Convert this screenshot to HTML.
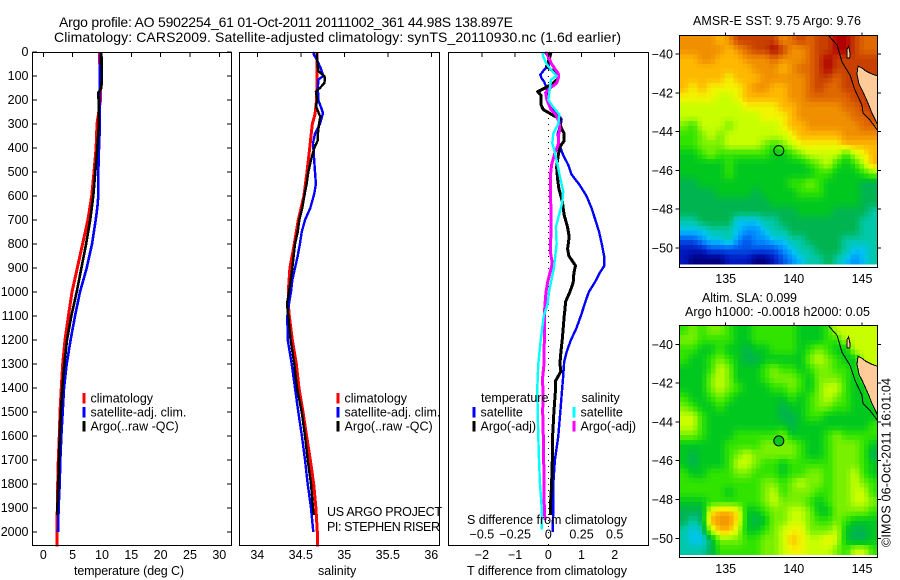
<!DOCTYPE html>
<html><head><meta charset="utf-8"><title>Argo profile</title>
<style>
html,body{margin:0;padding:0;background:#fff}
svg{display:block}
text{font-family:"Liberation Sans",sans-serif;fill:#000;font-size:12.5px}
.t{font-size:14px}
</style></head>
<body>
<svg id="chart" width="900" height="580" viewBox="0 0 900 580" xmlns="http://www.w3.org/2000/svg">
<rect width="900" height="580" fill="#fff"/>
<text class="t" x="59" y="27" textLength="454">Argo profile: AO 5902254_61 01-Oct-2011 20111002_361 44.98S 138.897E</text>
<text class="t" x="54" y="42" textLength="567">Climatology: CARS2009. Satellite-adjusted climatology: synTS_20110930.nc (1.6d earlier)</text>
<text x="74" y="575" textLength="110">temperature (deg C)</text>
<text x="318" y="575">salinity</text>
<text x="467" y="575" textLength="160">T difference from climatology</text>
<text x="467" y="524" textLength="160">S difference from climatology</text>
<text x="327" y="516" textLength="115">US ARGO PROJECT</text>
<text x="327" y="531" textLength="113">PI: STEPHEN RISER</text>
<text x="693" y="25" textLength="168">AMSR-E SST: 9.75  Argo: 9.76</text>
<text x="702" y="302" textLength="95">Altim. SLA: 0.099</text>
<text x="685" y="316" textLength="185">Argo h1000: -0.0018 h2000: 0.05</text>
<text transform="translate(890.5,547) rotate(-90)" textLength="169">©IMOS 06-Oct-2011 16:01:04</text>
</svg>
<script>
// ---------- profile data: temperature panel ----------
const climTempDepth = [0,100,200,300,400,500,600,700,800,900,1000,1100,1200,1300,1400,1500,1600,1700,1800,1900,2000,2060];
const climTemp = [9.55,9.7,9.75,9.15,9.0,8.64,8.25,7.6,6.7,5.8,4.9,4.27,3.7,3.3,3.07,2.85,2.73,2.56,2.45,2.39,2.33,2.33];
const satTempDepth = [0,100,200,300,400,500,600,650,700,800,900,1000,1100,1200,1300,1400,1500,1600,1700,1800,1900,2000];
const satTemp = [9.78,9.6,9.65,9.65,9.5,9.38,9.38,9.2,8.93,8.3,7.4,6.25,5.4,4.66,3.98,3.53,3.3,3.07,2.9,2.8,2.6,2.5];
const argoTempDepth = [0,100,150,170,200,300,400,500,600,700,800,900,1000,1100,1200,1300,1400,1500,1600,1700,1800,1900,1930];
const argoTemp = [9.9,9.95,9.9,9.38,9.42,9.48,9.2,8.87,8.53,8.0,7.3,6.5,5.7,4.78,4.04,3.58,3.24,3.0,2.8,2.68,2.56,2.39,2.39];

// ---------- profile data: salinity panel ----------
const climSalDepth = [0,100,200,260,300,400,500,600,700,800,900,1000,1050,1100,1200,1300,1400,1500,1600,1700,1800,1900,2000,2060];
const climSal = [34.686,34.686,34.682,34.663,34.632,34.602,34.571,34.536,34.471,34.425,34.375,34.356,34.356,34.368,34.402,34.448,34.479,34.525,34.567,34.609,34.648,34.674,34.69,34.693];
const satSalDepth = [0,10,30,70,100,115,150,200,230,255,300,340,380,420,500,550,590,650,700,750,800,850,900,950,1000,1050,1100,1200,1300,1400,1500,1600,1700,1800,1900,2000];
const satSal = [34.655,34.648,34.682,34.732,34.759,34.701,34.697,34.701,34.732,34.755,34.72,34.663,34.64,34.648,34.663,34.674,34.655,34.609,34.548,34.51,34.49,34.464,34.433,34.402,34.387,34.364,34.345,34.349,34.395,34.433,34.471,34.513,34.548,34.579,34.617,34.644];
const argoSalDepth = [0,20,80,100,110,130,150,165,200,225,250,270,300,340,370,400,450,500,550,600,650,700,750,800,900,1000,1050,1100,1200,1300,1400,1500,1600,1700,1800,1900,1930];
const argoSal = [34.686,34.686,34.701,34.77,34.778,34.77,34.72,34.674,34.69,34.674,34.701,34.724,34.709,34.697,34.693,34.655,34.617,34.586,34.567,34.54,34.517,34.483,34.464,34.433,34.402,34.364,34.341,34.356,34.383,34.425,34.456,34.51,34.548,34.579,34.617,34.64,34.648];

// ---------- profile data: difference panel ----------
const diffTempSatDepth = [0,20,60,70,95,110,125,150,200,240,260,280,300,340,380,430,470,510,555,600,650,700,750,800,850,890,920,960,1000,1040,1100,1150,1200,1250,1290,1350,1400,1500,1600,1700,1800,1900,2000];
const diffTempSat = [-0.1,0,0.02,-0.1,-0.24,-0.2,-0.12,-0.05,0,0.15,0.3,0.4,0.38,0.28,0.32,0.45,0.6,0.7,0.95,1.15,1.3,1.42,1.53,1.61,1.68,1.69,1.55,1.4,1.22,1.12,0.98,0.85,0.68,0.55,0.48,0.45,0.42,0.36,0.3,0.2,0.15,0.15,0.13];
const diffTempArgoDepth = [0,20,60,75,90,110,130,150,165,180,220,240,260,280,300,320,340,370,395,430,480,530,570,620,680,730,770,820,850,890,920,960,1000,1040,1075,1100,1150,1200,1250,1300,1330,1350,1370,1400,1500,1600,1700,1800,1900,1930];
const diffTempArgo = [0.08,0.05,-0.05,0.1,0.28,0.3,0.15,-0.1,-0.32,-0.22,-0.22,-0.15,0.1,0.35,0.35,0.4,0.48,0.48,0.35,0.3,0.25,0.28,0.32,0.42,0.48,0.58,0.63,0.58,0.62,0.82,0.77,0.75,0.65,0.52,0.5,0.48,0.45,0.42,0.38,0.35,0.38,0.3,0.22,0.22,0.17,0.13,0.12,0.1,0.06,0.06];
const diffSalSatDepth = [0,20,50,80,100,115,150,200,230,260,300,340,380,420,470,520,580,630,680,730,800,900,1000,1050,1100,1200,1300,1400,1500,1600,1700,1800,1900,1990];
const diffSalSat = [-0.045,-0.0375,-0.0125,0.03,0.0625,0.02,0.0125,0,0.0375,0.0825,0.075,0.0375,0.03,0.05,0.07,0.0875,0.1125,0.105,0.08,0.0575,0.0625,0.0425,0.005,-0.005,-0.035,-0.0575,-0.075,-0.0825,-0.08,-0.075,-0.07,-0.0625,-0.05,-0.05];
const diffSalArgoDepth = [0,20,50,70,90,110,130,150,170,200,240,260,290,320,350,385,420,470,520,600,680,750,830,880,920,960,1000,1050,1100,1200,1300,1370,1400,1500,1600,1700,1800,1900,1950];
const diffSalArgo = [-0.0125,0,0.025,0.05,0.075,0.075,0.0625,0.0125,-0.02,-0.01,0.02,0.055,0.08,0.0875,0.075,0.075,0.05,0.025,0.015,0.0175,0.02,0.02,0.015,0.03,0.0125,-0.005,-0.0175,-0.025,-0.03,-0.03,-0.0325,-0.045,-0.04,-0.0425,-0.0375,-0.035,-0.0325,-0.03,-0.025];

// ---------- tick labels ----------
const depthTicks = [0,100,200,300,400,500,600,700,800,900,1000,1100,1200,1300,1400,1500,1600,1700,1800,1900,2000];
const tempTicks = [0,5,10,15,20,25,30];
const salTicks = [34,34.5,35,35.5,36];
const diffTTicks = [-2,-1,0,1,2];
const diffSTicks = [-0.5,-0.25,0,0.25,0.5];
const lonTicks = [135,140,145];
const sstLatTicks = [-40,-42,-44,-46,-48,-50];
const slaLatTicks = [-40,-42,-44,-46,-48,-50];

// ---------- map data (colour-scale levels, rows north to south) ----------
const sstLevels = [
[13,13,13,13,12,13,15,15,15,15,15,13,14,15,14,15,15,16,16,15,14,14],
[13,13,13,13,13,12,13,14,15,15,16,15,13,13,14,15,15,16,16,15,14,14],
[12,12,13,13,12,12,12,13,13,13,14,13,13,13,14,15,16,15,15,15,15,15],
[12,12,12,12,12,12,12,12,13,13,13,12,13,14,14,15,16,15,15,15,15,15],
[12,12,12,12,12,11,12,12,12,13,13,13,13,13,14,15,15,14,15,15,15,15],
[12,11,12,11,11,11,11,12,13,13,12,12,13,13,14,15,14,14,15,15,15,15],
[11,11,11,11,10,10,11,12,12,12,12,12,13,13,14,14,14,14,14,15,15,15],
[10,10,10,10,10,10,10,11,11,11,11,12,12,13,13,13,13,13,14,14,15,15],
[10,10,10,10,10,10,10,10,10,11,11,11,12,13,13,13,13,13,13,14,14,15],
[9,8,10,10,10,9,10,10,10,10,10,11,12,12,13,13,13,13,13,13,14,14],
[8,8,9,10,9,10,10,10,10,10,10,10,11,12,12,12,12,12,13,13,13,13],
[8,8,9,9,9,10,10,10,10,9,8,9,10,11,11,11,11,11,12,12,12,12],
[7,7,8,9,8,8,8,8,8,8,7,7,8,9,10,10,10,10,8,10,11,12],
[7,7,7,7,7,8,7,7,7,7,7,7,7,7,8,9,10,8,7,8,10,12],
[7,7,7,7,7,8,7,7,7,7,7,7,7,7,7,8,8,7,7,7,8,9],
[6,6,7,7,7,7,7,7,7,7,7,7,8,8,9,8,7,7,7,7,6,6],
[6,6,6,6,7,7,7,7,6,7,7,7,7,8,8,8,7,7,7,7,6,6],
[6,6,6,6,6,6,6,6,6,6,7,7,7,7,7,7,7,7,7,7,6,6],
[6,6,6,6,6,6,6,6,6,6,6,6,6,7,7,7,7,6,6,6,6,5],
[5,5,6,6,6,6,4,4,4,5,5,6,6,6,6,6,6,6,6,6,5,5],
[4,4,4,5,5,5,4,3,3,4,5,5,6,6,6,6,6,6,6,6,5,5],
[2,2,3,4,4,5,3,2,3,3,4,4,5,5,6,6,6,6,5,5,5,5],
[1,1,1,2,2,2,2,2,2,2,2,3,4,5,5,6,6,6,5,4,4,5],
[1,0,0,0,0,1,1,1,0,0,1,2,3,4,5,5,6,5,4,3,4,5]
];
const slaLevels = [
[8,9,8,9,9,8,7,7,8,8,8,8,8,7,7,7,8,10,10,10,10,10],
[9,9,8,8,8,8,7,7,8,8,8,8,8,7,7,7,8,8,10,10,10,10],
[8,8,7,7,8,7,7,6,7,7,8,8,8,7,8,9,8,7,7,10,10,10],
[8,7,7,8,9,8,7,6,6,7,7,7,7,7,9,10,9,8,7,7,10,10],
[7,7,7,8,10,9,7,7,7,8,9,8,8,7,8,9,9,8,8,7,9,10],
[7,7,7,9,10,9,7,7,7,8,9,9,9,8,7,9,9,9,8,7,8,10],
[7,7,7,9,10,9,8,7,7,7,8,8,9,8,7,9,10,10,8,7,7,9],
[8,7,7,8,9,8,7,7,7,7,7,7,8,7,8,9,10,9,8,7,7,8],
[9,8,7,7,8,7,7,7,7,7,7,6,7,7,8,9,9,8,8,7,7,7],
[10,10,8,7,7,7,7,7,7,7,7,6,6,7,8,8,7,7,7,7,7,7],
[10,10,8,7,7,7,7,7,7,7,7,7,6,7,7,7,7,7,7,7,7,8],
[9,9,8,7,7,7,8,8,8,8,8,9,7,7,7,7,8,9,8,8,8,8],
[7,7,7,7,7,8,8,8,8,9,9,9,9,8,7,7,8,9,9,9,8,7],
[7,6,7,7,7,8,9,10,9,9,9,9,9,8,7,7,8,9,9,9,8,6],
[7,6,7,7,7,8,10,10,9,8,8,7,8,8,8,8,8,9,9,9,8,7],
[8,7,7,8,8,8,9,9,8,8,8,7,8,8,9,9,8,9,9,10,8,7],
[8,8,8,8,8,8,8,8,8,9,9,8,9,10,9,9,8,9,9,10,9,8],
[8,8,8,8,8,7,8,8,8,9,10,8,9,9,9,8,8,9,9,10,10,8],
[7,7,7,8,8,8,8,8,8,9,10,9,9,9,8,7,8,9,9,10,10,9],
[6,6,6,11,12,12,11,7,7,8,9,9,10,10,9,7,7,9,9,9,9,8],
[6,5,6,12,13,13,11,7,6,7,9,9,10,10,9,8,8,9,8,7,7,7],
[5,4,5,10,12,12,10,7,7,8,9,10,11,11,9,9,9,10,7,6,6,7],
[5,4,4,6,9,9,9,8,8,9,9,10,12,11,10,10,11,10,7,6,6,7],
[5,5,5,6,8,8,8,8,8,9,9,10,11,11,10,10,10,9,8,10,10,8]
];
const colorScale = ['#000080','#0018c0','#0050e8','#0090ff','#00c4f0','#00c8a8','#00b450','#00c81e','#30e400','#78f000','#c8ff00','#f4f400','#ffb800','#f09000','#e06800','#c84000','#b00000'];

// ---------- geography (lon / lat) ----------
const tasmaniaLon = [144.71,145.0,145.29,145.73,146.12,146.12,145.73,145.44,145.07,144.78,144.63];
const tasmaniaLat = [-40.62,-40.72,-40.88,-41.03,-41.13,-43.61,-43.04,-42.53,-41.96,-41.55,-41.03];
const kingLon = [143.9,144.02,144.12,144.1,143.9];
const kingLat = [-39.75,-39.62,-39.95,-40.2,-40.2];
const isobathLon = [142.51,143.17,143.53,144.12,144.49,145.0,145.07,145.58,146.12];
const isobathLat = [-39.02,-39.54,-40.41,-41.08,-41.86,-42.63,-43.04,-43.4,-43.92];
const floatLon = [138.897];
const floatLat = [-44.98];

// ---------- drawing ----------
const NS = 'http://www.w3.org/2000/svg';
const svg = document.getElementById('chart');
function make(tag, props) {
  const el = document.createElementNS(NS, tag);
  for (const k in props) el.setAttribute(k, props[k]);
  svg.appendChild(el);
  return el;
}
function label(str, x, y, anchor, name) {
  const el = make('text', {x: x, y: y, 'text-anchor': anchor});
  el.textContent = str;
  
  
  return el;
}
function tick(x1, y1, x2, y2, name) {
  const el = make('line', {x1: x1, y1: y1, x2: x2, y2: y2, stroke: '#000', 'stroke-width': 1, 'shape-rendering': 'crispEdges'});
  
  
}
function frame(x, y, w, h, name) {
  const el = make('rect', {x: x, y: y, width: w, height: h, fill: 'none', stroke: '#000', 'stroke-width': 1, 'shape-rendering': 'crispEdges'});
  
  
}
function fmt(v) { return String(v).replace('-', '\u2212'); }

const yDepth = d => 52 + 0.24 * d;
const PTOP = 52, PBOT = 545.5;
const xTemp = t => 43.3 + 5.867 * t;
const xSal = s => 257.3 + 87 * (s - 34);
const xDiffT = t => 548.3 + 33.2 * t;
const xDiffS = s => 548.3 + 132.8 * s;

function profile(xs, depths, xf, color, width, name) {
  const pts = xs.map((v, i) => xf(v).toFixed(1) + ',' + yDepth(depths[i]).toFixed(1)).join(' ');
  const el = make('polyline', {points: pts, fill: 'none', stroke: color, 'stroke-width': width, 'stroke-linejoin': 'round', 'shape-rendering': 'crispEdges'});
  
  
}

function legendRow(x, y, color, str, name) {
  const m = make('rect', {x: x, y: y, width: 3, height: 10.5, fill: color, 'shape-rendering': 'crispEdges'});
  
  
  label(str, x + 8, y + 9.5, 'start', name + '-label');
}

// temperature panel
profile(climTemp, climTempDepth, xTemp, '#ff0000', 3, 'climatology-temperature-line');
profile(satTemp, satTempDepth, xTemp, '#0000ff', 2.6, 'satellite-temperature-line');
profile(argoTemp, argoTempDepth, xTemp, '#000000', 2.6, 'argo-temperature-line');
frame(32.5, 52.5, 199, 493, 'temperature-panel-frame');
depthTicks.forEach(d => {
  tick(32.5, yDepth(d), 37, yDepth(d), 'depth-tick-left');
  tick(227, yDepth(d), 231.5, yDepth(d), 'depth-tick-right');
  label(String(d), 28.5, yDepth(d) + 4, 'end', 'depth-tick-label');
});
tempTicks.forEach(t => {
  tick(xTemp(t), 52.5, xTemp(t), 57, 'temperature-tick');
  label(String(t), xTemp(t), 559, 'middle', 'temperature-tick-label');
});
legendRow(82.5, 393, '#ff0000', 'climatology', 'temperature-legend-climatology');
legendRow(82.5, 407, '#0000ff', 'satellite-adj. clim.', 'temperature-legend-satellite');
legendRow(82.5, 421, '#000000', 'Argo(..raw -QC)', 'temperature-legend-argo');

// salinity panel
profile(climSal, climSalDepth, xSal, '#ff0000', 3, 'climatology-salinity-line');
profile(satSal, satSalDepth, xSal, '#0000ff', 2.4, 'satellite-salinity-line');
profile(argoSal, argoSalDepth, xSal, '#000000', 2.4, 'argo-salinity-line');
frame(239.5, 52.5, 200, 493, 'salinity-panel-frame');
salTicks.forEach(s => {
  tick(xSal(s), 52.5, xSal(s), 57, 'salinity-tick');
  label(String(s), xSal(s), 559, 'middle', 'salinity-tick-label');
});
legendRow(336.5, 393, '#ff0000', 'climatology', 'salinity-legend-climatology');
legendRow(336.5, 407, '#0000ff', 'satellite-adj. clim.', 'salinity-legend-satellite');
legendRow(336.5, 421, '#000000', 'Argo(..raw -QC)', 'salinity-legend-argo');

// difference panel
const zero = make('line', {x1: xDiffT(0), y1: PTOP, x2: xDiffT(0), y2: PBOT, stroke: '#000', 'stroke-width': 1, 'stroke-dasharray': '1 5', 'shape-rendering': 'crispEdges'});


profile(diffTempSat, diffTempSatDepth, xDiffT, '#0000ff', 2.4, 'satellite-t-difference-line');
profile(diffTempArgo, diffTempArgoDepth, xDiffT, '#000000', 3, 'argo-t-difference-line');
profile(diffSalArgo, diffSalArgoDepth, xDiffS, '#ff00ff', 3, 'argo-s-difference-line');
profile(diffSalSat, diffSalSatDepth, xDiffS, '#00ffff', 2.4, 'satellite-s-difference-line');
frame(448.5, 52.5, 200, 493, 'difference-panel-frame');
diffTTicks.forEach(t => {
  tick(xDiffT(t), 52.5, xDiffT(t), 57, 'difference-tick');
  label(fmt(t), xDiffT(t), 559, 'middle', 't-difference-tick-label');
});
diffSTicks.forEach(s => {
  label(fmt(s), xDiffS(s), 538.5, 'middle', 's-difference-tick-label');
});
label('temperature', 481, 402, 'start', 'difference-legend-temperature-heading');
legendRow(472.5, 407, '#0000ff', 'satellite', 'difference-legend-t-satellite');
legendRow(472.5, 421, '#000000', 'Argo(-adj)', 'difference-legend-t-argo');
label('salinity', 581.5, 402, 'start', 'difference-legend-salinity-heading');
legendRow(572.5, 407, '#00ffff', 'satellite', 'difference-legend-s-satellite');
legendRow(572.5, 421, '#ff00ff', 'Argo(-adj)', 'difference-legend-s-argo');

// maps
const LON0 = 131.62, LONSTEP = 0.66, LAT0 = -39.04, LATSTEP = 0.491;
function scaleColor(v) {
  const a = Math.floor(v), b = Math.min(a + 1, colorScale.length - 1), f = v - a;
  const ch = (hex, p) => parseInt(hex.substr(p, 2), 16);
  const mix = p => Math.round(ch(colorScale[a], p) * (1 - f) + ch(colorScale[b], p) * f);
  return 'rgb(' + mix(1) + ',' + mix(3) + ',' + mix(5) + ')';
}
function levelAt(levels, u, v) {
  const nr = levels.length, nc = levels[0].length;
  const cu = Math.max(0, Math.min(nc - 1, u)), cv = Math.max(0, Math.min(nr - 1, v));
  const i0 = Math.floor(cu), j0 = Math.floor(cv);
  const i1 = Math.min(i0 + 1, nc - 1), j1 = Math.min(j0 + 1, nr - 1);
  const fu = cu - i0, fv = cv - j0;
  return (levels[j0][i0] * (1 - fu) + levels[j0][i1] * fu) * (1 - fv) + (levels[j1][i0] * (1 - fu) + levels[j1][i1] * fu) * fv;
}
function drawMap(levels, xLon, yLat, top, bottom, markFill, mapName, latTicks, xLabelY) {
  const SUB = 2;
  for (let sj = 0; sj < levels.length * SUB; sj++) {
    for (let si = 0; si < levels[0].length * SUB; si++) {
      const x0 = xLon(LON0 + si * LONSTEP / SUB), x1 = xLon(LON0 + (si + 1) * LONSTEP / SUB);
      const y0 = yLat(LAT0 - sj * LATSTEP / SUB), y1 = yLat(LAT0 - (sj + 1) * LATSTEP / SUB);
      const lv = levelAt(levels, (si + 0.5) / SUB - 0.5, (sj + 0.5) / SUB - 0.5);
      const cell = make('rect', {x: x0.toFixed(1), y: y0.toFixed(1), width: (x1 - x0 + 0.5).toFixed(1), height: (y1 - y0 + 0.5).toFixed(1), fill: scaleColor(lv), 'shape-rendering': 'crispEdges'});
      
      
    }
  }
  const toPts = (lons, lats) => lons.map((v, i) => xLon(v).toFixed(1) + ',' + yLat(lats[i]).toFixed(1)).join(' ');
  const tas = make('polygon', {points: toPts(tasmaniaLon, tasmaniaLat), fill: '#ffcc99', stroke: '#000', 'stroke-width': 1, 'shape-rendering': 'crispEdges'});
  
  
  const king = make('polygon', {points: toPts(kingLon, kingLat), fill: '#ffcc99', stroke: '#000', 'stroke-width': 1, 'shape-rendering': 'crispEdges'});
  
  
  const iso = make('polyline', {points: toPts(isobathLon, isobathLat), fill: 'none', stroke: '#000', 'stroke-width': 1, 'shape-rendering': 'crispEdges'});
  
  
  const mark = make('circle', {cx: xLon(floatLon[0]), cy: yLat(floatLat[0]), r: 5, fill: markFill, stroke: '#000', 'stroke-width': 1});
  
  
  frame(679.5, top, 198, bottom - top, mapName + '-frame');
  lonTicks.forEach(l => {
    tick(xLon(l), top - 3, xLon(l), top, mapName + '-lon-tick');
    label(String(l), xLon(l), xLabelY, 'middle', mapName + '-lon-tick-label');
  });
  latTicks.forEach(l => {
    tick(675.5, yLat(l), 679.5, yLat(l), mapName + '-lat-tick-left');
    tick(877.5, yLat(l), 881, yLat(l), mapName + '-lat-tick-right');
    label(fmt(l), 673, yLat(l) + 4.5, 'end', mapName + '-lat-tick-label');
  });
}
const xLonMap = lon => 725.7 + 13.63 * (lon - 135);
const ySst = lat => 54 - 19.4 * (lat + 40);
const ySla = lat => 344.3 - 19.4 * (lat + 40);
drawMap(sstLevels, xLonMap, ySst, 35.5, 267.5, 'none', 'sst-map', sstLatTicks, 283);
drawMap(slaLevels, xLonMap, ySla, 325.5, 557.5, '#00c81e', 'sla-map', slaLatTicks, 573);

// keep all text above the plotted lines
Array.from(svg.querySelectorAll('text')).forEach(t => svg.appendChild(t));
</script>
</body></html>
